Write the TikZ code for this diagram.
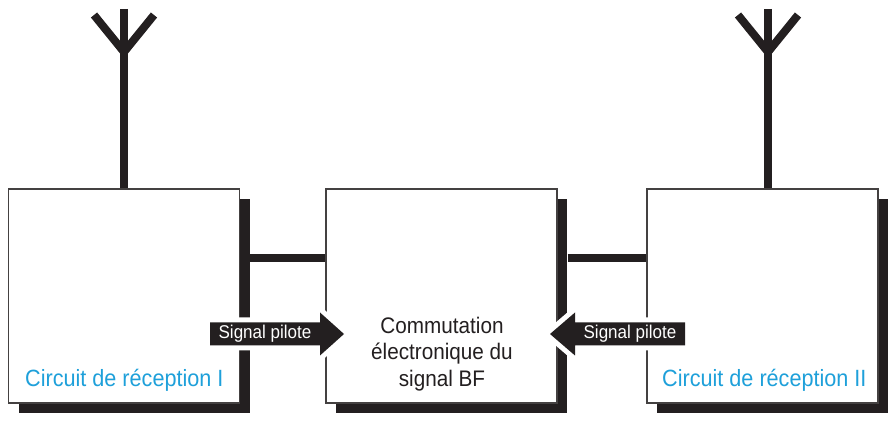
\documentclass[tikz,border=0pt]{standalone}
\usepackage{fontspec}
\setmainfont[FakeStretch=0.92]{Liberation Sans}
\usetikzlibrary{positioning, shadows}
\definecolor{ink}{RGB}{35,31,32}
\definecolor{cyanlabel}{RGB}{30,160,218}

\tikzset{
    block/.style={draw=ink!85, line width=1.2pt, fill=white, minimum width=231pt, minimum height=214pt,
        drop shadow={shadow xshift=10pt, shadow yshift=-10pt, fill=ink, opacity=1}},
    wire/.style={ink, line width=8pt},
    pilot/.style={fill=ink, preaction={draw=white, line width=10pt, line join=miter}},
    pilottext/.style={text=white, font=\fontsize{18.5}{21}\selectfont},
    recvlabel/.style={text=cyanlabel, font=\fontsize{23.5}{27}\selectfont, inner sep=0pt, anchor=base west}
}

\begin{document}
\begin{tikzpicture}[x=1pt, y=1pt]
    \useasboundingbox (0,0) rectangle (896,420);

    % antennas
    \coordinate (ant1) at (124,411);
    \coordinate (ant2) at (768,411);
    \draw[wire] (94,405) -- (124,368) -- (154,405);
    \draw[wire] (738,405) -- (768,368) -- (798,405);

    % blocks
    \node[block] (recv1) at (124,124) {};
    \node[block] (comm) at (441.5,124) {};
    \node[block] (recv2) at (762.5,124) {};
    \draw[wire] (ant1) -- (ant1 |- recv1.north);
    \draw[wire] (ant2) -- (ant2 |- recv2.north);

    % links
    \draw[wire] ([xshift=10pt, yshift=38pt]recv1.east) -- ([yshift=38pt]comm.west);
    \draw[wire] ([xshift=10pt, yshift=38pt]comm.east) -- ([yshift=38pt]recv2.west);

    % pilot signals
    \path[pilot] (210,74.5) -- (320,74.5) -- (320,64.5) -- (344,86) -- (320,107.5) -- (320,97.5) -- (210,97.5) -- cycle;
    \path[pilot] (685,74.5) -- (575,74.5) -- (575,64.5) -- (550,86) -- (575,107.5) -- (575,97.5) -- (685,97.5) -- cycle;
    \node[pilottext] (pilot1) at (265,86) {Signal pilote};
    \node[pilottext] (pilot2) at (630,86) {Signal pilote};

    % labels
    \node[recvlabel] (lab1) at (25,33) {Circuit de réception I};
    \node[recvlabel] (lab2) at (662,33) {Circuit de réception II};
    \node[align=center, text=ink, font=\fontsize{22.5}{26.5}\selectfont] (commtext) at (442,66)
        {Commutation\\électronique du\\signal BF};
\end{tikzpicture}
\end{document}
